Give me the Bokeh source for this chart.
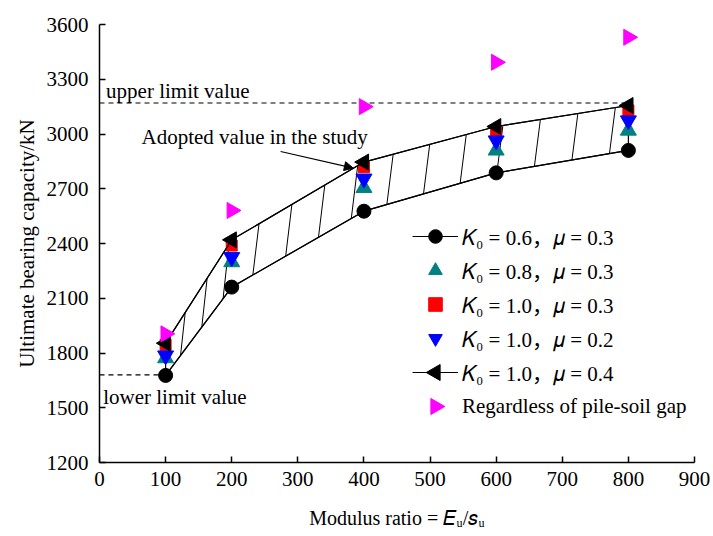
import math
import numpy as np
from bokeh.plotting import figure
from bokeh.models import (Range1d, FixedTicker, Legend, LegendItem, Label,
                          Arrow, NormalHead)
from bokeh.embed import file_html
from bokeh.resources import INLINE

# ---------------- data ----------------
modulus_ratio = [100, 200, 400, 600, 800]
k06_mu03 = [1677, 2161, 2577, 2787, 2910]
k08_mu03 = [1772, 2298, 2705, 2910, 3019]
k10_mu03 = [1845, 2389, 2818, 3014, 3129]
k10_mu02 = [1786, 2325, 2755, 2964, 3074]
k10_mu04 = [1854, 2420, 2846, 3041, 3156]
no_gap = [1905, 2581, 3150, 3393, 3530]

upper_limit = 3170
lower_limit = 1680

x_ticks = [0, 100, 200, 300, 400, 500, 600, 700, 800, 900]
y_ticks = [1200, 1500, 1800, 2100, 2400, 2700, 3000, 3300, 3600]

labels = ["𝐾₀ = 0.6，𝜇 = 0.3", "𝐾₀ = 0.8，𝜇 = 0.3", "𝐾₀ = 1.0，𝜇 = 0.3",
          "𝐾₀ = 1.0，𝜇 = 0.2", "𝐾₀ = 1.0，𝜇 = 0.4", "Regardless of pile-soil gap"]

FONT = "Liberation Serif"
LEG_FONT = "Liberation Serif, Noto Sans CJK SC"

W, H = 713, 536
BL, BR, BT, BB = 99, 19, 24, 74
X0, X1, Y0, Y1 = 0, 900, 1200, 3600

p = figure(width=W, height=H, output_backend="svg", toolbar_location=None,
           x_range=Range1d(X0, X1), y_range=Range1d(Y0, Y1),
           min_border_left=BL, min_border_right=BR, min_border_top=BT,
           min_border_bottom=BB)
p.outline_line_color = None
p.xgrid.visible = False
p.ygrid.visible = False

for ax, ticks in ((p.xaxis, x_ticks), (p.yaxis, y_ticks)):
    ax.ticker = FixedTicker(ticks=ticks, minor_ticks=[])
    ax.major_tick_in = 6
    ax.major_tick_out = 0
    ax.minor_tick_in = 0
    ax.minor_tick_out = 0
    ax.axis_line_width = 1.5
    ax.major_tick_line_width = 1.5
    ax.axis_line_color = "black"
    ax.major_tick_line_color = "black"
    ax.major_label_text_font = FONT
    ax.major_label_text_font_size = "21px"
    ax.major_label_text_color = "black"
    ax.axis_label_text_font = FONT
    ax.axis_label_text_font_style = "normal"
    ax.axis_label_text_color = "black"

p.xaxis.axis_label_text_font_size = "20px"
p.yaxis.axis_label_text_font_size = "21px"
p.xaxis.major_label_standoff = 9
p.yaxis.major_label_standoff = 11
p.xaxis.axis_label = "Modulus ratio = 𝐸ᵤ/𝑠ᵤ"
p.yaxis.axis_label = "Ultimate bearing capacity/kN"
p.xaxis.axis_label_standoff = 18
p.yaxis.axis_label_standoff = 5

sx = (W - BL - BR) / (X1 - X0)   # px per x unit
sy = (H - BT - BB) / (Y1 - Y0)   # px per y unit

# ---- hatched band between lower (K0=0.6) and upper (K0=1.0, mu=0.4) curves ----
band_x = modulus_ratio + modulus_ratio[::-1]
band_y = k06_mu03 + k10_mu04[::-1]
p.patch(band_x, band_y, fill_color=None, line_color="black", line_width=1.2)

xs = np.array(modulus_ratio, float)
lo = np.array(k06_mu03, float)
hi = np.array(k10_mu04, float)
mid_px_x = xs * sx
mid_px_y = (lo + hi) / 2 * sy
arc = np.concatenate([[0], np.cumsum(np.hypot(np.diff(mid_px_x), np.diff(mid_px_y)))])
spacing_px = 38
targets = np.arange(spacing_px * 0.8, arc[-1] - spacing_px * 0.3, spacing_px)
hx = np.interp(targets, arc, xs)
height_px = (np.interp(hx, xs, hi) - np.interp(hx, xs, lo)) * sy
dx = 0.13 * height_px / sx
hx0 = hx - dx / 2
hx1 = hx + dx / 2
p.segment(x0=hx0, y0=np.interp(hx0, xs, lo), x1=hx1, y1=np.interp(hx1, xs, hi),
          line_color="black", line_width=1)

# limit lines
p.line([0, modulus_ratio[-1]], [upper_limit, upper_limit], line_color="black",
       line_width=1.1, line_dash="5 4")
p.line([0, modulus_ratio[0]], [lower_limit, lower_limit], line_color="black",
       line_width=1.1, line_dash="5 4")

MS = 16
l1 = p.line(modulus_ratio, k06_mu03, line_color="black", line_width=1.2)
s1 = p.scatter(modulus_ratio, k06_mu03, marker="circle", size=14,
               fill_color="black", line_color="black")
s2 = p.scatter(modulus_ratio, k08_mu03, marker="triangle", size=MS,
               fill_color="#008080", line_color="#008080")
s3 = p.scatter(modulus_ratio, k10_mu03, marker="square", size=11,
               fill_color="#ff0000", line_color="#ff0000")
s4 = p.scatter(modulus_ratio, k10_mu02, marker="inverted_triangle", size=MS,
               fill_color="#0000ff", line_color="#0000ff")
l5 = p.line(modulus_ratio, k10_mu04, line_color="black", line_width=1.2)
s5 = p.scatter(modulus_ratio, k10_mu04, marker="triangle", angle=math.pi / 2,
               size=MS, fill_color="black", line_color="black")
s6 = p.scatter(modulus_ratio, no_gap, marker="triangle", angle=-math.pi / 2,
               size=MS, fill_color="#ff00ff", line_color="#ff00ff")
# invisible stand-in so the last legend row keeps its label (its key is drawn below)
dummy = p.scatter([], [], marker="circle", size=1, alpha=0)

# ---- legend ----
LEG_X, LEG_Y = 313, 39          # bottom-left of legend box, px from frame bottom-left
GW, GH, GAP = 46, 34, 0         # glyph box width/height and row spacing
legend = Legend(items=[
    LegendItem(label=labels[0], renderers=[l1, s1]),
    LegendItem(label=labels[1], renderers=[s2]),
    LegendItem(label=labels[2], renderers=[s3]),
    LegendItem(label=labels[3], renderers=[s4]),
    LegendItem(label=labels[4], renderers=[l5]),
    LegendItem(label=labels[5], renderers=[dummy]),
], location=(LEG_X, LEG_Y), glyph_width=GW, glyph_height=GH, label_height=GH,
    spacing=GAP, padding=0, margin=0, label_standoff=4,
    border_line_color=None, background_fill_alpha=0,
    label_text_font=LEG_FONT, label_text_font_size="21px", label_text_color="black")
p.add_layout(legend)

# legend keys of the rotated triangles (legend keys ignore marker angles)
key_x = X0 + (LEG_X + GW / 2) / sx
row_pitch = GH + GAP
key_y6 = Y0 + (LEG_Y + GH / 2) / sy
key_y5 = Y0 + (LEG_Y + GH / 2 + row_pitch) / sy
p.scatter([key_x], [key_y5], marker="triangle", angle=math.pi / 2, size=MS,
          fill_color="black", line_color="black")
p.scatter([key_x], [key_y6], marker="triangle", angle=-math.pi / 2, size=MS,
          fill_color="#ff00ff", line_color="#ff00ff")

for txt, x, y in (("upper limit value", 10, 3238),
                  ("Adopted value in the study", 63.5, 2983),
                  ("lower limit value", 5.6, 1558)):
    p.add_layout(Label(x=x, y=y, text=txt, text_baseline="middle",
                       text_font=FONT, text_font_size="21px", text_color="black"))

p.add_layout(Arrow(end=NormalHead(size=9, fill_color="black", line_color="black"),
                   x_start=274, y_start=2904, x_end=384, y_end=2813,
                   line_width=1.2, line_color="black"))

open("out.html", "w").write(file_html(p, INLINE))
